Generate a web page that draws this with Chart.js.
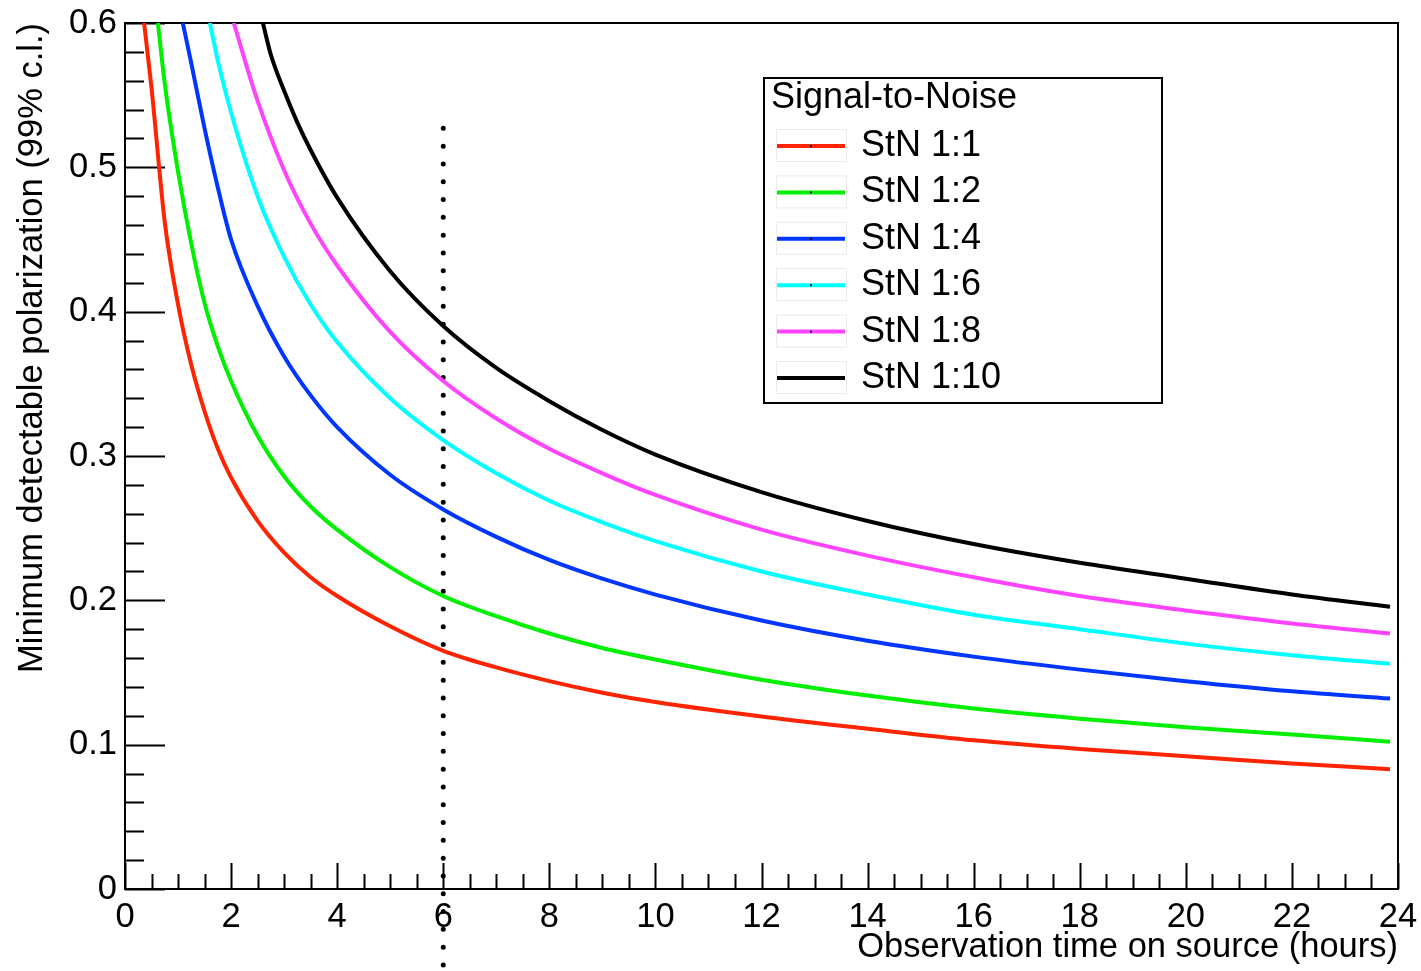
<!DOCTYPE html>
<html>
<head>
<meta charset="utf-8">
<title>Minimum detectable polarization</title>
<script src="https://cdn.jsdelivr.net/npm/chart.js@4.4.1/dist/chart.umd.min.js"></script>
<style>
  html, body { margin: 0; padding: 0; background: #fff; }
  canvas { display: block; }
</style>
</head>
<body>
<canvas id="mdpChart" width="1421" height="971"></canvas>
<script>
// [observation time (hours), minimum detectable polarization] for each signal-to-noise ratio
const stn1 = [[0.36,0.6],[0.5,0.555],[0.75,0.462],[1,0.405],[1.25,0.363],[1.5,0.331],[1.75,0.305],[2,0.285],[2.5,0.255],[3,0.233],[3.5,0.216],[4,0.203],[5,0.182],[6,0.165],[7,0.1535],[8,0.144],[9,0.136],[10,0.1295],[12,0.1195],[14,0.111],[16,0.103],[18,0.097],[20,0.092],[22,0.087],[23.85,0.083]];
const stn2 = [[0.62,0.6],[0.75,0.558],[1,0.497],[1.25,0.447],[1.5,0.406],[1.75,0.376],[2,0.352],[2.5,0.314],[3,0.286],[3.5,0.265],[4,0.249],[5,0.223],[6,0.203],[7,0.189],[8,0.177],[9,0.167],[10,0.159],[12,0.145],[14,0.134],[16,0.125],[18,0.118],[20,0.112],[22,0.107],[23.85,0.102]];
const stn4 = [[1.09,0.6],[1.25,0.572],[1.5,0.527],[1.75,0.486],[2,0.450],[2.5,0.404],[3,0.369],[3.5,0.342],[4,0.320],[5,0.287],[6,0.263],[7,0.244],[8,0.228],[9,0.215],[10,0.204],[12,0.186],[14,0.172],[16,0.161],[18,0.152],[20,0.144],[22,0.137],[23.85,0.132]];
const stn6 = [[1.6,0.6],[1.75,0.574],[2,0.538],[2.5,0.480],[3,0.438],[3.5,0.405],[4,0.379],[5,0.340],[6,0.311],[7,0.288],[8,0.269],[9,0.254],[10,0.241],[12,0.220],[14,0.204],[16,0.190],[18,0.180],[20,0.170],[22,0.162],[23.85,0.156]];
const stn8 = [[2.05,0.6],[2.5,0.546],[3,0.498],[3.5,0.461],[4,0.432],[5,0.386],[6,0.352],[7,0.326],[8,0.305],[9,0.288],[10,0.273],[12,0.249],[14,0.231],[16,0.216],[18,0.203],[20,0.193],[22,0.184],[23.85,0.177]];
const stn10 = [[2.6,0.6],[2.75,0.578],[3,0.553],[3.25,0.531],[3.5,0.512],[4,0.479],[5,0.428],[6,0.390],[7,0.361],[8,0.338],[9,0.318],[10,0.301],[12,0.275],[14,0.255],[16,0.239],[18,0.226],[20,0.215],[22,0.204],[23.85,0.1955]];

const seriesData = [stn1, stn2, stn4, stn6, stn8, stn10];
const seriesLabels = ['StN 1:1', 'StN 1:2', 'StN 1:4', 'StN 1:6', 'StN 1:8', 'StN 1:10'];
const seriesColors = ['#ff2400', '#00f000', '#0036ff', '#00ffff', '#ff44ff', '#000000'];

// vertical dotted marker at 6 h
const markerHour = 6;
const markerSpan = [0.527, -0.058];

const legendTitle = 'Signal-to-Noise';
const FONT = "'Liberation Sans', Arial, Helvetica, sans-serif";

// ROOT-style frame with inward ticks
const frameTicks = {
  id: 'frameTicks',
  beforeDatasetsDraw(chart) {
    const { ctx, chartArea: a, scales: { x, y } } = chart;
    ctx.save();
    ctx.strokeStyle = '#000';
    ctx.lineWidth = 2;
    ctx.beginPath();
    for (let i = 0; i <= 48; i++) {
      const px = Math.round(x.getPixelForValue(i * 0.5)) + 0.5;
      const len = i % 4 === 0 ? 26 : 15;
      ctx.moveTo(px, a.bottom);
      ctx.lineTo(px, a.bottom - len);
    }
    for (let i = 0; i <= 30; i++) {
      const py = Math.round(y.getPixelForValue(i * 0.02)) + 0.5;
      const len = i % 5 === 0 ? 40 : 19;
      ctx.moveTo(a.left, py);
      ctx.lineTo(a.left + len, py);
    }
    ctx.stroke();
    ctx.strokeRect(a.left, a.top, a.right - a.left, a.bottom - a.top);
    ctx.restore();
  }
};

const stnLegend = {
  id: 'stnLegend',
  afterDatasetsDraw(chart) {
    const ctx = chart.ctx;
    const box = { left: 764, top: 78, right: 1162, bottom: 403 };
    ctx.save();
    ctx.fillStyle = '#fff';
    ctx.fillRect(box.left, box.top, box.right - box.left, box.bottom - box.top);
    ctx.strokeStyle = '#000';
    ctx.lineWidth = 2;
    ctx.strokeRect(box.left, box.top, box.right - box.left, box.bottom - box.top);

    ctx.font = '36px ' + FONT;
    ctx.textBaseline = 'middle';
    ctx.fillStyle = '#000';
    ctx.fillText(legendTitle, 771, 98);

    seriesLabels.forEach((label, i) => {
      const cy = 146 + i * 46.4;
      ctx.strokeStyle = '#ececec';
      ctx.lineWidth = 1;
      ctx.strokeRect(776.5, cy - 16.5, 70, 32);
      ctx.strokeStyle = seriesColors[i];
      ctx.lineWidth = 4;
      ctx.beginPath();
      ctx.moveTo(777, cy);
      ctx.lineTo(845, cy);
      ctx.stroke();
      ctx.fillStyle = '#000';
      ctx.fillRect(810, cy - 1, 2, 2);
      ctx.fillText(label, 861, cy);
    });
    ctx.restore();
  }
};

const datasets = seriesData.map((pts, i) => ({
  label: seriesLabels[i],
  data: pts.map(p => ({ x: p[0], y: p[1] })),
  borderColor: seriesColors[i],
  borderWidth: 4,
  pointRadius: 0,
  cubicInterpolationMode: 'monotone',
  fill: false
}));

datasets.push({
  label: 'marker',
  data: markerSpan.map(v => ({ x: markerHour, y: v })),
  borderColor: '#000',
  borderWidth: 5,
  borderDash: [0, 17.8],
  borderCapStyle: 'round',
  pointRadius: 0,
  clip: false
});

new Chart(document.getElementById('mdpChart'), {
  type: 'line',
  data: { datasets },
  options: {
    responsive: false,
    animation: false,
    devicePixelRatio: 1,
    layout: { padding: { top: 23, right: 23, left: 0, bottom: 0 } },
    plugins: { legend: { display: false }, tooltip: { enabled: false } },
    scales: {
      x: {
        type: 'linear',
        min: 0,
        max: 24,
        grid: { display: false, drawTicks: false },
        border: { display: false },
        ticks: {
          stepSize: 2,
          autoSkip: false,
          maxRotation: 0,
          padding: 8,
          color: '#000',
          font: { family: FONT, size: 34.5 }
        },
        title: {
          display: true,
          text: 'Observation time on source (hours)',
          align: 'end',
          color: '#000',
          font: { family: FONT, size: 34.5, lineHeight: 1 },
          padding: { top: 0, bottom: 6 }
        },
        afterFit(scale) {
          scale.height = 82;
          scale.paddingLeft = 0;
          scale.paddingRight = 0;
        }
      },
      y: {
        type: 'linear',
        min: 0,
        max: 0.6,
        grid: { display: false, drawTicks: false },
        border: { display: false },
        ticks: {
          stepSize: 0.1,
          padding: 8,
          color: '#000',
          font: { family: FONT, size: 34.5 }
        },
        title: {
          display: true,
          text: 'Minimum detectable polarization (99% c.l.)',
          align: 'end',
          color: '#000',
          font: { family: FONT, size: 34.5, lineHeight: 1 },
          padding: { top: 15, bottom: 0 }
        },
        afterFit(scale) {
          scale.width = 125;
          scale.paddingTop = 0;
          scale.paddingBottom = 0;
        }
      }
    }
  },
  plugins: [frameTicks, stnLegend]
});
</script>
</body>
</html>
